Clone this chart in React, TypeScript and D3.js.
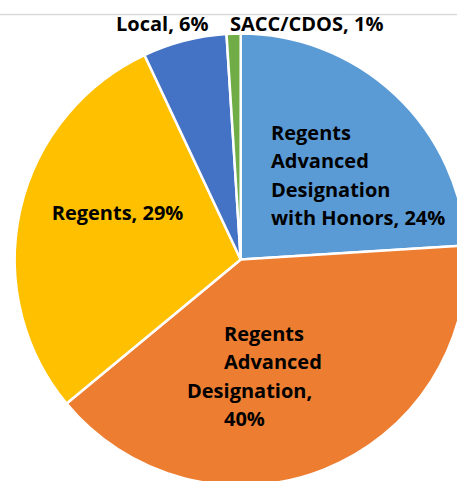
import React from "react";
import * as d3 from "d3";

const categories = [
  "Regents Advanced Designation with Honors",
  "Regents Advanced Designation",
  "Regents",
  "Local",
  "SACC/CDOS",
];
const values = [24, 40, 29, 6, 1];
const colors = ["#5B9BD5", "#ED7D31", "#FFC000", "#4472C4", "#70AD47"];
const labelLines: string[][] = [
  ["Regents", "Advanced", "Designation", "with Honors, 24%"],
  ["Regents", "Advanced", "Designation,", "40%"],
  ["Regents, 29%"],
  ["Local, 6%"],
  ["SACC/CDOS, 1%"],
];

const W = 457;
const H = 481;
const cx = 240.7;
const cy = 259.5;
const R = 226;

const labelPos: { x: number[]; y: number }[] = [
  { x: [271, 271, 271, 271], y: 140 },
  { x: [224, 224, 187, 224], y: 340.7 },
  { x: [51.7], y: 220 },
  { x: [116], y: 30.7 },
  { x: [230], y: 30.7 },
];

export default function App() {
  const pie = d3
    .pie<number>()
    .sort(null)
    .value((d) => d)
    .startAngle(0)
    .endAngle(2 * Math.PI);
  const arcs = pie(values);
  const arc = d3.arc<d3.PieArcDatum<number>>().innerRadius(0).outerRadius(R);

  return (
    <div style={{ position: "absolute", left: 0, top: 0 }}>
      <svg width={W} height={H} style={{ display: "block" }}>
        <rect x={0} y={0} width={W} height={H} fill="#ffffff" />
        <line x1={0} x2={W} y1={14.5} y2={14.5} stroke="#d9d9d9" strokeWidth={1.5} />
        <g transform={`translate(${cx},${cy})`}>
          {arcs.map((a, i) => (
            <path
              key={categories[i]}
              d={arc(a) || ""}
              fill={colors[i]}
              stroke="#ffffff"
              strokeWidth={2.5}
              strokeLinejoin="round"
            />
          ))}
        </g>
        <g
          fontFamily="'Open Sans', Lato, sans-serif"
          fontWeight={700}
          fontSize={20}
          fill="#000000"
        >
          {labelLines.map((lines, i) => (
            <text key={categories[i]}>
              {lines.map((ln, j) => (
                <tspan key={j} x={labelPos[i].x[j]} y={labelPos[i].y + j * 28.4}>
                  {ln}
                </tspan>
              ))}
            </text>
          ))}
        </g>
      </svg>
    </div>
  );
}
